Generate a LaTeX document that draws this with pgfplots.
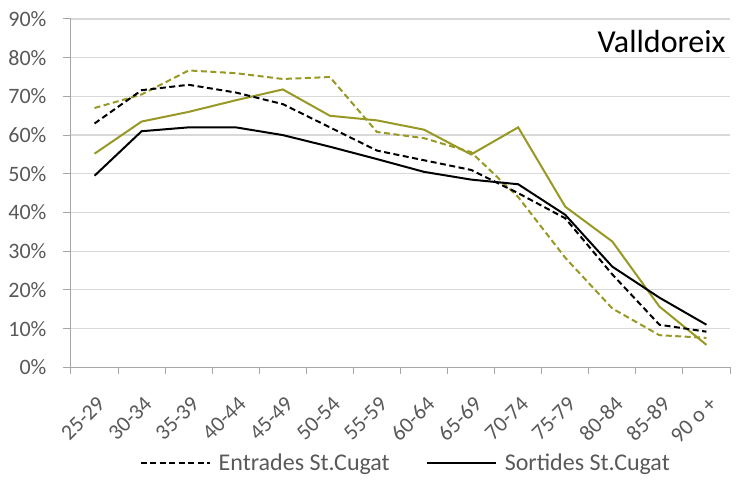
\documentclass[border=0pt]{standalone}
\usepackage{pgfplots}
\pgfplotsset{compat=1.18}
\usepackage{fontspec}
\setmainfont{Carlito}
\usetikzlibrary{calc}

\definecolor{olive}{RGB}{152,152,36}
\definecolor{axisgray}{RGB}{166,166,166}
\definecolor{gridgray}{RGB}{217,217,217}
\definecolor{labelgray}{RGB}{89,89,89}

\begin{document}
\begin{tikzpicture}
\begin{axis}[
  name=ax,
  scale only axis,
  width=659pt, height=348.3pt,
  xmin=-0.5, xmax=13.5,
  ymin=0, ymax=90,
  axis lines*=left,
  axis line style={axisgray, line width=1pt},
  xtick={0,...,13},
  xticklabels={25-29,30-34,35-39,40-44,45-49,50-54,55-59,60-64,65-69,70-74,75-79,80-84,85-89,90 o +},
  major x tick style={draw=none},
  minor xtick={-0.5,0.5,...,13.5},
  minor x tick style={axisgray, line width=1pt},
  minor tick length=7pt,
  ytick={0,10,...,90},
  yticklabels={0\%,10\%,20\%,30\%,40\%,50\%,60\%,70\%,80\%,90\%},
  major y tick style={axisgray, line width=1pt},
  major tick length=8pt,
  tick align=outside,
  ymajorgrids,
  grid style={gridgray, line width=1.2pt},
  tick label style={font=\fontsize{22}{25}\selectfont, text=labelgray},
  xticklabel style={rotate=45, anchor=north east, inner sep=0pt, yshift=-15pt, xshift=-13pt},
  yticklabel style={xshift=-13pt},
  clip=false,
  legend columns=2,
  legend style={draw=none, fill=none, at={(axis description cs:0.508,-0.275)}, anchor=center,
    font=\fontsize{24}{28}\selectfont, text=labelgray,
    /tikz/every odd column/.append style={column sep=6pt},
    /tikz/every even column/.append style={column sep=34pt}},
  legend image code/.code={\draw[#1] (0pt,0pt) -- (69pt,0pt);},
  every axis plot/.append style={line width=2pt, mark=none},
]
% Valldoreix series
\addplot[olive, dash pattern=on 6pt off 3.5pt, forget plot] coordinates {
 (0,67) (1,70.5) (2,76.7) (3,76) (4,74.5) (5,75) (6,60.8) (7,59.2) (8,55.6) (9,44) (10,28.3) (11,15.2) (12,8.3) (13,7.6)};
\addplot[olive, forget plot] coordinates {
 (0,55.2) (1,63.5) (2,66) (3,69) (4,71.8) (5,65) (6,63.8) (7,61.4) (8,55) (9,62) (10,41.5) (11,32.5) (12,15.7) (13,5.8)};
% Sant Cugat series
\addplot[black, dash pattern=on 6pt off 3.5pt] coordinates {
 (0,63) (1,71.6) (2,73) (3,71) (4,68) (5,62) (6,56) (7,53.5) (8,51) (9,45) (10,38.5) (11,24) (12,11) (13,9.2)};
\addlegendentry{Entrades St.Cugat}
\addplot[black] coordinates {
 (0,49.5) (1,61) (2,62) (3,62) (4,60) (5,57) (6,53.8) (7,50.5) (8,48.5) (9,47.3) (10,39.4) (11,26) (12,18) (13,11)};
\addlegendentry{Sortides St.Cugat}
\node[anchor=base east, font=\fontsize{32}{36}\selectfont, text=black, inner sep=0pt]
  at (axis description cs:0.9935,0.9024) {Valldoreix};
\coordinate (BL) at (rel axis cs:0,0);
\coordinate (TR) at (rel axis cs:1,1);
\end{axis}
\pgfresetboundingbox
\path[use as bounding box] ($(BL)+(-71pt,-115.7pt)$) rectangle ($(TR)+(9pt,19pt)$);
\end{tikzpicture}
\end{document}
